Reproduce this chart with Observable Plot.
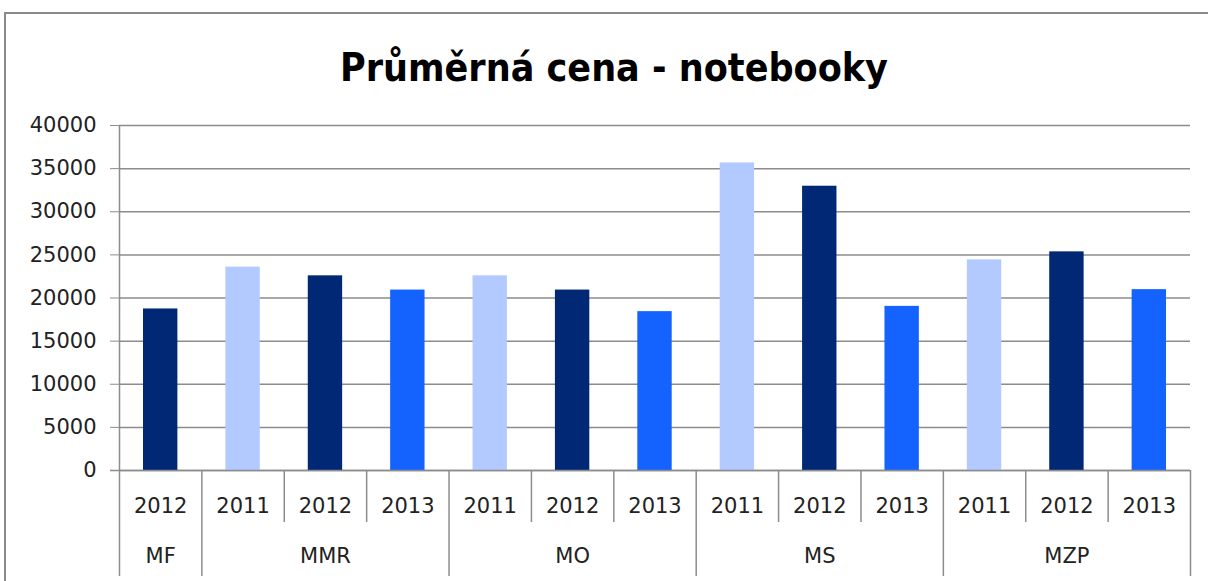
<!DOCTYPE html>
<html>
<head>
<meta charset="utf-8">
<script src="https://cdn.jsdelivr.net/npm/d3@7"></script>
<script src="https://cdn.jsdelivr.net/npm/@observablehq/plot@0.6"></script>
<style>
  html, body { margin: 0; padding: 0; background: #fff; overflow: hidden; }
  #wrap { position: relative; width: 1208px; height: 581px; overflow: hidden; }
  #frame { position: absolute; left: 4px; top: 12px; width: 1240px; height: 620px; border: 2px solid #8a8a8a; box-sizing: border-box; }
  #title { position: absolute; left: 0; top: 45px; width: 1228px; text-align: center;
           font-family: "DejaVu Sans Condensed", "Liberation Sans Narrow", sans-serif; font-weight: bold; font-size: 39px; color: #000; }
  #chart { position: absolute; left: 0; top: 0; }
</style>
</head>
<body>
<div id="wrap">
  <div id="frame"></div>
  <div id="title">Průměrná cena - notebooky</div>
  <div id="chart"></div>
</div>
<script>
const ministries = ["MF", "MMR", "MMR", "MMR", "MO", "MO", "MO", "MS", "MS", "MS", "MZP", "MZP", "MZP"];
const years = ["2012", "2011", "2012", "2013", "2011", "2012", "2013", "2011", "2012", "2013", "2011", "2012", "2013"];
const prices = [18730, 23580, 22570, 20920, 22570, 20920, 18420, 35660, 32960, 19030, 24420, 25350, 20970];
const yearColors = {"2011": "#b2caff", "2012": "#002874", "2013": "#1463ff"};
const yTicks = [0, 5000, 10000, 15000, 20000, 25000, 30000, 35000, 40000];

const rows = prices.map((v, i) => ({i, ministry: ministries[i], year: years[i], price: v}));

// group spans
const groups = [];
ministries.forEach((m, i) => {
  const g = groups[groups.length - 1];
  if (g && g.name === m) g.end = i + 1;
  else groups.push({name: m, start: i, end: i + 1});
});
const groupEdges = [0, ...groups.map(g => g.end)];
const yearEdges = d3.range(1, ministries.length).filter(e => !groupEdges.includes(e));

const W = 1208, H = 581, mL = 119, mR = 18, mT = 125, mB = 111;
const plotH = H - mT - mB;
const font = "DejaVu Sans, sans-serif";

const chart = Plot.plot({
  width: W, height: H,
  marginLeft: mL, marginRight: mR, marginTop: mT, marginBottom: mB,
  style: {fontFamily: font, fontSize: "21px", color: "#222", background: "transparent", overflow: "visible"},
  x: {type: "linear", domain: [0, ministries.length], axis: null},
  y: {domain: [0, 40000], axis: null},
  marks: [
    Plot.gridY(yTicks, {stroke: "#8c8c8c", strokeOpacity: 1, strokeWidth: 1.5}),
    Plot.axisY(yTicks, {tickSize: 9, tickPadding: 14, stroke: "#8c8c8c", tickFormat: d => String(d), fontSize: 21, fill: "#222", label: null}),
    Plot.rectY(rows, {x1: "i", x2: d => d.i + 1, y1: 0, y2: "price", fill: d => yearColors[d.year], insetLeft: 24, insetRight: 24}),
    Plot.ruleX([0], {stroke: "#8c8c8c", strokeWidth: 1.5}),
    Plot.ruleY([0], {stroke: "#8c8c8c", strokeWidth: 1.5, insetLeft: -9}),
    Plot.ruleX(yearEdges, {x: d => d, stroke: "#8c8c8c", strokeWidth: 1.5, insetTop: plotH, insetBottom: -52}),
    Plot.ruleX(groupEdges, {x: d => d, stroke: "#8c8c8c", strokeWidth: 1.5, insetTop: plotH, insetBottom: -106}),
    Plot.text(rows, {x: d => d.i + 0.5, text: "year", frameAnchor: "bottom", dy: 42, fontSize: 21, fill: "#222"}),
    Plot.text(groups, {x: d => (d.start + d.end) / 2, text: "name", frameAnchor: "bottom", dy: 92, fontSize: 21, fill: "#222"})
  ]
});
document.getElementById("chart").appendChild(chart);
</script>
</body>
</html>
